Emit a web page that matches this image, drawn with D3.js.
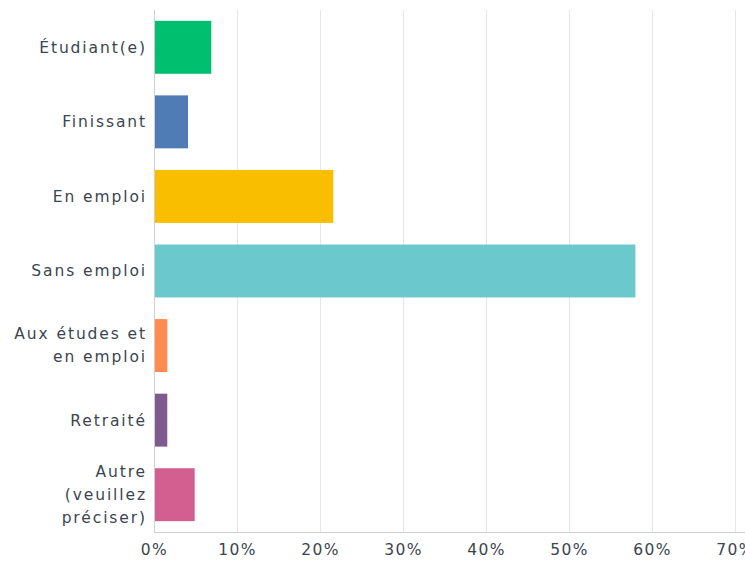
<!DOCTYPE html>
<meta charset="utf-8">
<style>
  body { margin: 0; background: #fff; }
  text { font-family: "DejaVu Sans", sans-serif; fill: #3b4550; letter-spacing: 1.4px; }
  text.cat { letter-spacing: 1.9px; }
  .grid line { stroke: #e6e6e6; stroke-width: 1; }
  .grid path.domain { display: none; }
  .axis-x path.domain, .axis-x line { display: none; }
</style>
<body></body>
<script src="https://cdn.jsdelivr.net/npm/d3@7"></script>
<script>

var categories = ["Étudiant(e)", "Finissant", "En emploi", "Sans emploi",
                  "Aux études et|en emploi", "Retraité", "Autre|(veuillez|préciser)"];
var values = [6.9, 4.1, 21.6, 58.0, 1.6, 1.6, 4.9];
var colors = ["#00bf6f", "#507cb6", "#f9be00", "#6bc8cd", "#ff8b4f", "#7f5a91", "#d25f90"];
var tickValues = [0, 10, 20, 30, 40, 50, 60, 70];

var W = 745, H = 566;
var margin = {top: 10, right: 10, bottom: 34, left: 154};

var svg = d3.select("body").append("svg")
    .attr("width", W)
    .attr("height", H);

var x = d3.scaleLinear()
    .domain([0, 70])
    .range([margin.left, margin.left + 581]);

var y = d3.scaleBand()
    .domain(categories)
    .range([margin.top, H - margin.bottom])
    .paddingInner(0.29)
    .paddingOuter(0.145);

// vertical gridlines
svg.append("g")
    .attr("class", "grid")
    .attr("transform", "translate(0," + margin.top + ")")
    .call(d3.axisBottom(x).tickValues(tickValues.slice(1)).tickSize(H - margin.bottom - margin.top).tickFormat(""));

// bars
svg.selectAll("rect.bar")
    .data(categories)
    .enter()
    .append("rect")
    .attr("class", "bar")
    .attr("x", x(0) + 1)
    .attr("y", function(d) { return y(d); })
    .attr("width", function(d, i) { return x(values[i]) - x(0) - 1; })
    .attr("height", y.bandwidth())
    .attr("fill", function(d, i) { return colors[i]; });

// axis lines
svg.append("line")
    .attr("x1", x(0) + 0.5).attr("x2", x(0) + 0.5)
    .attr("y1", margin.top).attr("y2", H - margin.bottom)
    .attr("stroke", "#cfcfcf");
svg.append("line")
    .attr("x1", x(0)).attr("x2", W)
    .attr("y1", H - margin.bottom + 0.5).attr("y2", H - margin.bottom + 0.5)
    .attr("stroke", "#cfcfcf");

// x tick labels
var xa = svg.append("g")
    .attr("class", "axis-x")
    .attr("transform", "translate(0," + (H - margin.bottom) + ")")
    .call(d3.axisBottom(x).tickValues(tickValues).tickSize(0).tickPadding(12)
        .tickFormat(function(d) { return d + "%"; }));
xa.selectAll("text")
    .style("font-family", "'DejaVu Sans', sans-serif")
    .style("font-size", "15.5px")
    .style("fill", "#3b4550");

// category labels
var labels = svg.selectAll("text.cat")
    .data(categories)
    .enter()
    .append("text")
    .attr("class", "cat")
    .attr("text-anchor", "end")
    .style("font-size", "15.5px");

labels.each(function(d) {
    var lines = d.split("|");
    var cy = y(d) + y.bandwidth() / 2;
    var lh = 23;
    var y0 = cy - (lines.length - 1) * lh / 2;
    var t = d3.select(this);
    lines.forEach(function(l, k) {
        t.append("tspan")
            .attr("x", margin.left - 7)
            .attr("y", y0 + k * lh)
            .attr("dy", "0.35em")
            .text(l);
    });
});

</script>
